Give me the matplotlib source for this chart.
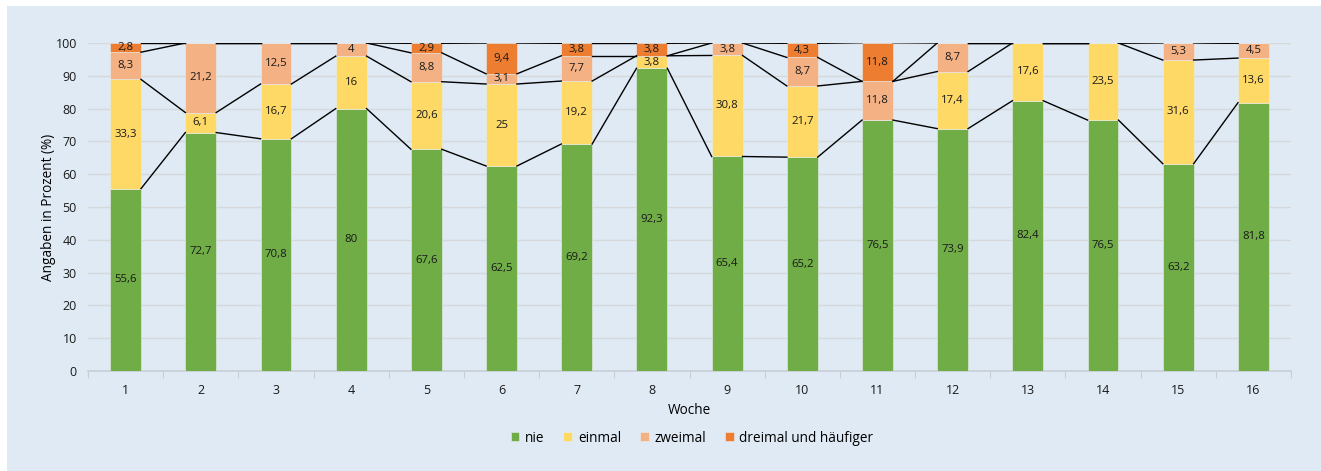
import numpy as np
import matplotlib
matplotlib.use('Agg')
import matplotlib.pyplot as plt
from matplotlib.patches import Rectangle

plt.rcParams['font.family'] = ['Open Sans', 'DejaVu Sans']

# Anteile je Woche (%), NaN = kein Wert
wochen = [str(i) for i in range(1, 17)]
nie = [55.6, 72.7, 70.8, 80, 67.6, 62.5, 69.2, 92.3, 65.4, 65.2, 76.5, 73.9, 82.4, 76.5, 63.2, 81.8]
einmal = [33.3, 6.1, 16.7, 16, 20.6, 25, 19.2, 3.8, 30.8, 21.7, np.nan, 17.4, 17.6, 23.5, 31.6, 13.6]
zweimal = [8.3, 21.2, 12.5, 4, 8.8, 3.1, 7.7, 0, 3.8, 8.7, 11.8, 8.7, 0, 0, 5.3, 4.5]
dreimal = [2.8, 0, 0, 0, 2.9, 9.4, 3.8, 3.8, 0, 4.3, 11.8, 0, 0, 0, 0, 0]

namen = ['nie', 'einmal', 'zweimal', 'dreimal und häufiger']
farben = ['#70AD47', '#FFD966', '#F4B183', '#ED7D31']
serien = [nie, einmal, zweimal, dreimal]

fig = plt.figure(figsize=(13.21, 4.71), dpi=100, facecolor='white')
fig.patches.append(Rectangle((7 / 1321, 0), 1, 1 - 6 / 471, transform=fig.transFigure,
                             facecolor='#DFEAF4', edgecolor='none', zorder=-10))
ax = fig.add_axes([88 / 1321, 1 - 371 / 471, (1291 - 88) / 1321, (371 - 43) / 471])
ax.set_facecolor('none')
ax.set_zorder(2)

x = np.arange(len(wochen))
w = 0.41
werte = np.nan_to_num(np.array(serien, dtype=float))
unten = np.zeros(len(x))
for vals, name, farbe in zip(werte, namen, farben):
    ax.bar(x, vals, w, bottom=unten, color=farbe, label=name, zorder=3,
           edgecolor='#E6EEF0', linewidth=0.4)
    for xi, v, b in zip(x, vals, unten):
        if v > 0:
            txt = ('%g' % v).replace('.', ',')
            ax.text(xi, b + v / 2, txt, ha='center', va='center', fontsize=8.2,
                    color='#1a1a1a', zorder=5)
    unten = unten + vals

# Reihenverbindungslinien
kum = np.cumsum(werte, axis=0)
roh = np.array(serien, dtype=float)
ebenen = kum.copy()
for k in range(len(serien)):
    for i in range(len(x)):
        if np.isnan(roh[k, i]) and k + 1 < len(serien):
            ebenen[k, i] = kum[k + 1, i]
for k in range(len(serien)):
    for i in range(len(x) - 1):
        ax.plot([x[i] + w / 2, x[i + 1] - w / 2], [ebenen[k, i], ebenen[k, i + 1]],
                color='black', lw=1.0, zorder=4)

ax.set_xlim(-0.5, len(x) - 0.5)
ax.set_ylim(0, 100)
ax.set_yticks(range(0, 101, 10))
ax.set_xticks(x)
ax.set_xticklabels(wochen)
ax.set_xticks(np.arange(-0.5, len(x), 1), minor=True)
ax.tick_params(axis='x', which='major', length=0, pad=9, labelsize=9, colors='#1a1a1a')
ax.tick_params(axis='x', which='minor', length=5, color='#C8CED4', width=0.8)
ax.tick_params(axis='y', length=0, pad=8, labelsize=9, colors='#1a1a1a')
ax.grid(axis='y', color='#D5D9DC', lw=1, zorder=0)
for s in ['top', 'right', 'left']:
    ax.spines[s].set_visible(False)
ax.spines['bottom'].set_color('#C8CED4')
ax.spines['bottom'].set_linewidth(1.2)

ax.set_xlabel('Woche', fontsize=9.8, labelpad=5)
ax.set_ylabel('Angaben in Prozent (%)', fontsize=9.8, labelpad=0)

ax.legend(loc='center', bbox_to_anchor=(692 / 1321, 1 - 438 / 471), bbox_transform=fig.transFigure,
          ncol=4, frameon=False, fontsize=9.8, handlelength=0.65, handleheight=0.65,
          handletextpad=0.4, columnspacing=1.4)

fig.savefig('out.png', dpi=100, facecolor=fig.get_facecolor())
